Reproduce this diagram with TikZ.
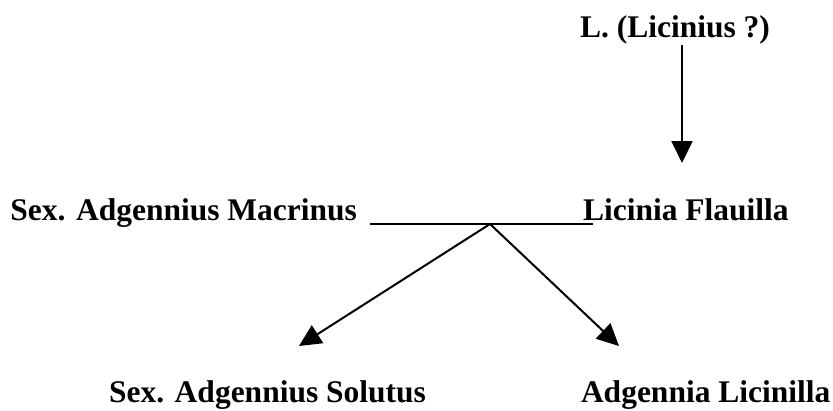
\documentclass[tikz,border=0pt]{standalone}
\usepackage{fontspec}
\setmainfont{Liberation Serif}
\usetikzlibrary{arrows.meta}

\begin{document}
\begin{tikzpicture}[x=1pt, y=-1pt, line width=2pt, >={Triangle[length=22pt,width=21pt]}]
\useasboundingbox (0,0) rectangle (833,410);

   \begin{scope}[every node/.style={inner sep=0pt,font=\fontsize{31.5}{38}\selectfont\bfseries}]
    \node[anchor=base west] (lic) at (579,37) {L. (Licinius ?)};
    \node[anchor=base east] (mac) at (358,220) {Sex. Adgennius Macrinus};
    \node[anchor=base west] (fla) at (582,220) {Licinia Flauilla};
    \node[anchor=base east] (sol) at (427,402) {Sex. Adgennius Solutus};
    \node[anchor=base west] (lcn) at (580,402) {Adgennia Licinilla};
   \end{scope}

\coordinate (m1) at (370,224);
\coordinate (m2) at (593,224);
\coordinate (apex) at (490,224);
\coordinate (flatop) at (682,163);
\coordinate (soltop) at (299,346);
\coordinate (lcntop) at (619,346);

\draw[line width=2.5pt] (m1) -- (m2);
\draw[->] (lic.south -| flatop) -- (flatop);
\draw[->] (apex) -- (soltop);
\draw[->] (apex) -- (lcntop);
\end{tikzpicture}
\end{document}
